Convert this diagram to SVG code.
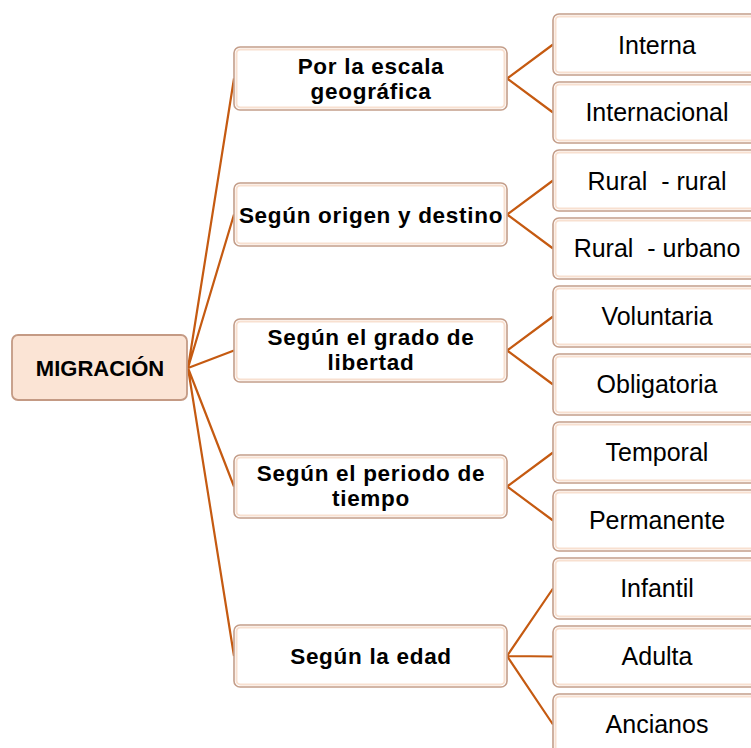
<svg xmlns="http://www.w3.org/2000/svg" width="751" height="748" viewBox="0 0 751 748">
<style>
.box{fill:#ffffff;stroke:#c49e8a;stroke-width:1.6}
.inner{fill:none;stroke:#f8e0d0;stroke-width:2}
.root{fill:#fbe4d5;stroke:#c49a84;stroke-width:1.8}
.mid{font-family:"Liberation Sans",Arial,sans-serif;font-weight:bold;font-size:22.5px;letter-spacing:0.7px;fill:#000;text-anchor:middle}
.leaf{font-family:"Liberation Sans",Arial,sans-serif;font-size:25px;fill:#000;text-anchor:middle}
.rt{font-family:"Liberation Sans",Arial,sans-serif;font-weight:bold;font-size:22px;fill:#000;text-anchor:middle}
.c{stroke:#c55a11;stroke-width:2.2;fill:none}
</style>
<rect width="751" height="748" fill="#ffffff"/>
<g id="connectors">
<path class="c" d="M188 368L234 78.5M188 368L234 214.5M188 368L234 350.5M188 368L234 486.5M188 368L234 656"/>
<path class="c" d="M507 78.5L553 44.5M507 78.5L553 112.5"/>
<path class="c" d="M507 214.5L553 180.5M507 214.5L553 248.5"/>
<path class="c" d="M507 350.5L553 316.5M507 350.5L553 384.5"/>
<path class="c" d="M507 486.5L553 452.5M507 486.5L553 520.5"/>
<path class="c" d="M507 656L553 588.5M507 656L553 656.5M507 656L553 724.5"/>
</g>
<g id="migracion">
<rect class="root" x="12" y="335" width="175" height="65" rx="6"/>
<text class="rt" x="100" y="376">MIGRACIÓN</text>
</g>
<g id="escala">
<rect class="box" x="234" y="47" width="273" height="63" rx="6"/>
<rect class="inner" x="236.5" y="49.5" width="268" height="58" rx="4"/>
<text class="mid" x="371" y="74">Por la escala</text>
<text class="mid" x="371" y="99">geográfica</text>
</g>
<g id="origen">
<rect class="box" x="234" y="183" width="273" height="63" rx="6"/>
<rect class="inner" x="236.5" y="185.5" width="268" height="58" rx="4"/>
<text class="mid" x="371" y="223">Según origen y destino</text>
</g>
<g id="libertad">
<rect class="box" x="234" y="319" width="273" height="63" rx="6"/>
<rect class="inner" x="236.5" y="321.5" width="268" height="58" rx="4"/>
<text class="mid" x="371" y="345">Según el grado de</text>
<text class="mid" x="371" y="370">libertad</text>
</g>
<g id="periodo">
<rect class="box" x="234" y="455" width="273" height="63" rx="6"/>
<rect class="inner" x="236.5" y="457.5" width="268" height="58" rx="4"/>
<text class="mid" x="371" y="481">Según el periodo de</text>
<text class="mid" x="371" y="506">tiempo</text>
</g>
<g id="edad">
<rect class="box" x="234" y="625" width="273" height="62" rx="6"/>
<rect class="inner" x="236.5" y="627.5" width="268" height="57" rx="4"/>
<text class="mid" x="371" y="664">Según la edad</text>
</g>
<g id="interna">
<rect class="box" x="553" y="14" width="210" height="61" rx="6"/>
<rect class="inner" x="555.5" y="16.5" width="205" height="56" rx="4"/>
<text class="leaf" x="657" y="54">Interna</text>
</g>
<g id="internacional">
<rect class="box" x="553" y="82" width="210" height="61" rx="6"/>
<rect class="inner" x="555.5" y="84.5" width="205" height="56" rx="4"/>
<text class="leaf" x="657" y="121">Internacional</text>
</g>
<g id="rural-rural">
<rect class="box" x="553" y="150" width="210" height="61" rx="6"/>
<rect class="inner" x="555.5" y="152.5" width="205" height="56" rx="4"/>
<text class="leaf" x="657" y="190" xml:space="preserve">Rural  - rural</text>
</g>
<g id="rural-urbano">
<rect class="box" x="553" y="218" width="210" height="61" rx="6"/>
<rect class="inner" x="555.5" y="220.5" width="205" height="56" rx="4"/>
<text class="leaf" x="657" y="257" xml:space="preserve">Rural  - urbano</text>
</g>
<g id="voluntaria">
<rect class="box" x="553" y="286" width="210" height="61" rx="6"/>
<rect class="inner" x="555.5" y="288.5" width="205" height="56" rx="4"/>
<text class="leaf" x="657" y="325">Voluntaria</text>
</g>
<g id="obligatoria">
<rect class="box" x="553" y="354" width="210" height="61" rx="6"/>
<rect class="inner" x="555.5" y="356.5" width="205" height="56" rx="4"/>
<text class="leaf" x="657" y="393">Obligatoria</text>
</g>
<g id="temporal">
<rect class="box" x="553" y="422" width="210" height="61" rx="6"/>
<rect class="inner" x="555.5" y="424.5" width="205" height="56" rx="4"/>
<text class="leaf" x="657" y="461">Temporal</text>
</g>
<g id="permanente">
<rect class="box" x="553" y="490" width="210" height="61" rx="6"/>
<rect class="inner" x="555.5" y="492.5" width="205" height="56" rx="4"/>
<text class="leaf" x="657" y="529">Permanente</text>
</g>
<g id="infantil">
<rect class="box" x="553" y="558" width="210" height="61" rx="6"/>
<rect class="inner" x="555.5" y="560.5" width="205" height="56" rx="4"/>
<text class="leaf" x="657" y="597">Infantil</text>
</g>
<g id="adulta">
<rect class="box" x="553" y="626" width="210" height="61" rx="6"/>
<rect class="inner" x="555.5" y="628.5" width="205" height="56" rx="4"/>
<text class="leaf" x="657" y="665">Adulta</text>
</g>
<g id="ancianos">
<rect class="box" x="553" y="694" width="210" height="61" rx="6"/>
<rect class="inner" x="555.5" y="696.5" width="205" height="56" rx="4"/>
<text class="leaf" x="657" y="733">Ancianos</text>
</g>
</svg>
